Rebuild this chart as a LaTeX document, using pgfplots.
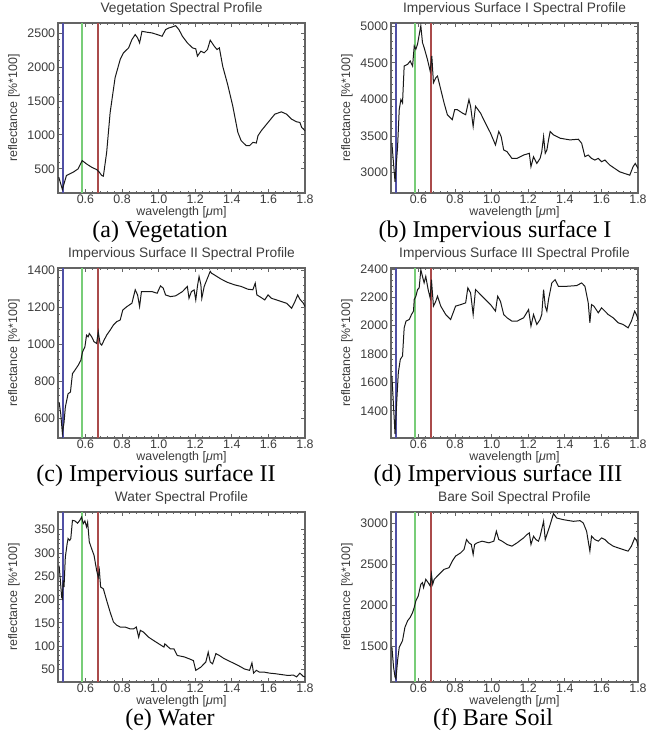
\documentclass[border=0pt]{standalone}
\usepackage{fontspec}
\setmainfont{Liberation Sans}
\newfontfamily\capfont{Liberation Serif}
\usepackage{pgfplots}
\pgfplotsset{compat=1.18}

\definecolor{bandblue}{RGB}{80,80,165}
\definecolor{bandgreen}{RGB}{120,205,120}
\definecolor{bandred}{RGB}{170,75,75}
\definecolor{frame}{RGB}{100,100,100}
\definecolor{txt}{RGB}{60,60,60}

\newcommand{\plotfont}{\fontsize{9.3}{11}\selectfont}
\newcommand{\titlefont}{\fontsize{10.3}{12}\selectfont}
\newcommand{\capsize}{\capfont\fontsize{18}{20}\selectfont}

% ENVI-like spectral profile box
\pgfplotsset{
  envi/.style={
    scale only axis, width=185.25pt, height=127.5pt,
    anchor=north west,
    xmin=0.45, xmax=1.8,
    xtick={0.6,0.8,1.0,1.2,1.4,1.6,1.8},
    minor x tick num=4, minor y tick num=4,
    tick pos=both, xticklabel pos=bottom, yticklabel pos=left,
    tick align=inside, major tick length=3pt, minor tick length=1.5pt,
    axis line style={draw=frame, line width=1.1pt},
    every tick/.style={frame, line width=0.6pt},
    /pgf/number format/assume math mode=true,
    tick label style={font=\plotfont, text=txt},
    xticklabel style={inner sep=1.5pt, /pgf/number format/.cd, fixed, fixed zerofill, precision=1},
    yticklabel style={inner sep=2pt, /pgf/number format/.cd, fixed, 1000 sep={}},
    xlabel={wavelength [\textit{μ}m]},
    ylabel={reflectance [\%*100]},
    label style={font=\plotfont, text=txt, inner sep=0.5pt},
    xlabel style={at={(axis description cs:0.5,-0.112)}, anchor=center},
    ylabel style={at={(axis description cs:-0.178,0.5)}, anchor=center},
    title style={font=\titlefont, text=txt, at={(axis description cs:0.5,1)}, anchor=base, yshift=1.7pt},
  },
  spec/.style={black!90, line width=0.75pt},
}

\newcommand{\bands}[2]{%
  \addplot[bandblue, line width=1.4pt] coordinates {(0.478,#1) (0.478,#2)};
  \addplot[bandgreen, line width=1.4pt] coordinates {(0.581,#1) (0.581,#2)};
  \addplot[bandred, line width=1.4pt] coordinates {(0.670,#1) (0.670,#2)};
}

\begin{document}
\begin{tikzpicture}
\useasboundingbox (0,0) rectangle (486pt,-549.75pt);

% (a) Vegetation
\begin{axis}[envi, at={(43.5pt,-17.25pt)}, ymin=145, ymax=2646,
  ytick={500,1000,...,2500}, title={Vegetation Spectral Profile}]
\bands{145}{2646}
\addplot[spec] coordinates {(0.454,378)(0.474,198)(0.496,402)(0.514,427)(0.533,451)(0.560,500)(0.582,622)(0.606,573)(0.634,524)(0.661,490)(0.676,451)(0.689,402)(0.698,393)(0.716,744)(0.735,1329)(0.762,1841)(0.790,2110)(0.808,2207)(0.836,2280)(0.854,2402)(0.872,2476)(0.885,2427)(0.896,2354)(0.909,2524)(0.937,2510)(0.964,2500)(0.992,2476)(1.019,2451)(1.038,2549)(1.056,2573)(1.074,2588)(1.093,2607)(1.111,2549)(1.130,2451)(1.157,2354)(1.185,2280)(1.203,2266)(1.212,2159)(1.231,2232)(1.249,2207)(1.267,2256)(1.282,2393)(1.304,2305)(1.319,2256)(1.332,2280)(1.350,2012)(1.377,1744)(1.405,1427)(1.433,1037)(1.451,915)(1.479,841)(1.497,841)(1.515,890)(1.534,880)(1.543,988)(1.561,1061)(1.598,1183)(1.635,1305)(1.671,1339)(1.699,1305)(1.726,1232)(1.754,1193)(1.772,1183)(1.782,1110)(1.800,1061)};
\end{axis}

% (b) Impervious surface I
\begin{axis}[envi, at={(293.25pt,-17.25pt)}, ymin=2719, ymax=5046,
  ytick={3000,3500,...,5000}, title={Impervious Surface I Spectral Profile}]
\bands{2719}{5046}
\addplot[spec] coordinates {(0.455,3400)(0.472,2871)(0.486,3354)(0.495,3860)(0.504,3998)(0.513,3952)(0.522,4457)(0.541,4480)(0.555,4526)(0.568,4457)(0.577,4733)(0.586,4687)(0.595,4756)(0.613,5009)(0.622,4779)(0.631,4710)(0.649,4549)(0.664,4388)(0.673,4595)(0.682,4228)(0.695,4297)(0.704,4320)(0.722,4136)(0.740,3952)(0.758,3791)(0.785,3722)(0.798,3860)(0.812,3860)(0.840,3814)(0.858,3791)(0.876,3998)(0.885,3906)(0.899,3630)(0.912,3906)(0.939,3814)(0.966,3676)(0.994,3538)(1.021,3377)(1.039,3561)(1.052,3492)(1.066,3308)(1.084,3285)(1.111,3193)(1.139,3193)(1.175,3239)(1.206,3262)(1.215,3078)(1.229,3216)(1.247,3124)(1.265,3193)(1.274,3285)(1.284,3492)(1.293,3262)(1.302,3308)(1.311,3446)(1.320,3561)(1.338,3515)(1.374,3469)(1.428,3446)(1.474,3455)(1.492,3400)(1.510,3216)(1.528,3239)(1.546,3193)(1.564,3170)(1.583,3193)(1.601,3147)(1.619,3170)(1.646,3101)(1.673,3055)(1.700,3009)(1.727,2986)(1.755,2963)(1.773,3078)(1.785,3124)(1.800,3055)};
\end{axis}

% (c) Impervious surface II
\begin{axis}[envi, at={(43.5pt,-201pt)}, ymin=491, ymax=1413,
  ytick={600,800,...,1400}, title={Impervious Surface II Spectral Profile}]
\bands{491}{1413}
\addplot[spec] coordinates {(0.456,686)(0.465,622)(0.474,516)(0.483,576)(0.490,658)(0.505,731)(0.518,740)(0.529,840)(0.542,858)(0.560,885)(0.575,913)(0.584,958)(0.597,985)(0.606,1049)(0.615,1040)(0.621,1058)(0.634,1040)(0.647,1013)(0.661,1004)(0.670,1067)(0.680,1004)(0.689,995)(0.702,1022)(0.716,1049)(0.735,1076)(0.753,1104)(0.771,1122)(0.790,1131)(0.804,1185)(0.827,1204)(0.854,1222)(0.872,1295)(0.885,1267)(0.896,1204)(0.906,1285)(0.928,1285)(0.964,1285)(0.992,1276)(1.010,1316)(1.025,1304)(1.038,1267)(1.065,1258)(1.093,1262)(1.130,1285)(1.157,1313)(1.166,1249)(1.179,1285)(1.194,1294)(1.203,1240)(1.212,1313)(1.221,1367)(1.231,1322)(1.236,1249)(1.249,1313)(1.267,1358)(1.282,1395)(1.289,1385)(1.304,1376)(1.341,1353)(1.377,1335)(1.414,1322)(1.451,1313)(1.488,1298)(1.515,1295)(1.528,1331)(1.537,1267)(1.552,1258)(1.580,1240)(1.598,1267)(1.616,1249)(1.644,1240)(1.671,1231)(1.699,1222)(1.727,1195)(1.745,1231)(1.760,1267)(1.772,1244)(1.791,1222)(1.800,1204)};
\end{axis}

% (d) Impervious surface III
\begin{axis}[envi, at={(293.25pt,-201pt)}, ymin=1208, ymax=2407,
  ytick={1400,1600,...,2400}, title={Impervious Surface III Spectral Profile}]
\bands{1208}{2407}
\addplot[spec] coordinates {(0.455,1646)(0.472,1236)(0.483,1505)(0.490,1669)(0.501,1763)(0.513,1786)(0.522,1985)(0.532,2032)(0.550,2044)(0.562,2079)(0.573,2103)(0.577,2185)(0.586,2208)(0.595,2255)(0.604,2267)(0.613,2395)(0.622,2348)(0.631,2302)(0.640,2348)(0.653,2255)(0.664,2196)(0.671,2325)(0.682,2138)(0.695,2173)(0.704,2208)(0.722,2138)(0.749,2079)(0.776,2044)(0.803,2138)(0.831,2149)(0.858,2161)(0.870,2267)(0.885,2231)(0.899,2079)(0.912,2255)(0.939,2220)(0.966,2185)(0.994,2149)(1.021,2103)(1.033,2208)(1.048,2173)(1.066,2079)(1.084,2056)(1.111,2032)(1.139,2032)(1.175,2056)(1.202,2114)(1.215,1997)(1.229,2079)(1.247,2009)(1.265,2044)(1.274,2079)(1.284,2255)(1.293,2138)(1.302,2103)(1.311,2185)(1.329,2302)(1.347,2325)(1.365,2278)(1.410,2278)(1.465,2283)(1.492,2302)(1.510,2278)(1.528,2161)(1.537,2021)(1.546,2149)(1.559,2138)(1.583,2091)(1.601,2126)(1.619,2103)(1.637,2079)(1.664,2056)(1.691,2021)(1.718,2009)(1.746,1985)(1.764,2032)(1.782,2103)(1.795,2068)(1.800,2040)};
\end{axis}

% (e) Water
\begin{axis}[envi, at={(43.5pt,-384pt)}, ymin=23, ymax=388,
  ytick={50,100,...,350}, title={Water Spectral Profile}]
\bands{23}{388}
\addplot[spec] coordinates {(0.456,273)(0.463,241)(0.470,205)(0.474,202)(0.478,241)(0.483,227)(0.490,291)(0.500,320)(0.505,331)(0.514,327)(0.520,331)(0.529,370)(0.542,369)(0.557,364)(0.569,370)(0.579,377)(0.588,363)(0.597,369)(0.606,356)(0.612,366)(0.621,324)(0.634,309)(0.647,295)(0.661,263)(0.670,248)(0.676,263)(0.683,227)(0.698,223)(0.716,198)(0.735,173)(0.753,152)(0.771,145)(0.790,141)(0.817,141)(0.845,137)(0.863,137)(0.878,141)(0.891,119)(0.900,134)(0.918,130)(0.946,119)(0.973,112)(1.001,105)(1.029,98)(1.034,105)(1.047,100)(1.065,94)(1.084,94)(1.102,80)(1.139,77)(1.166,73)(1.190,69)(1.203,48)(1.231,55)(1.258,66)(1.271,87)(1.282,66)(1.295,62)(1.313,84)(1.332,80)(1.359,73)(1.396,66)(1.433,59)(1.469,51)(1.497,48)(1.510,64)(1.519,42)(1.534,48)(1.552,44)(1.580,44)(1.607,42)(1.635,41)(1.671,39)(1.708,37)(1.736,38)(1.754,34)(1.772,42)(1.791,35)(1.800,34)};
\end{axis}

% (f) Bare Soil
\begin{axis}[envi, at={(293.25pt,-384pt)}, ymin=1070, ymax=3133,
  ytick={1500,2000,...,3000}, title={Bare Soil Spectral Profile}]
\bands{1070}{3133}
\addplot[spec] coordinates {(0.455,1492)(0.464,1251)(0.472,1130)(0.477,1110)(0.486,1331)(0.495,1492)(0.504,1532)(0.513,1573)(0.526,1733)(0.541,1814)(0.555,1854)(0.568,1914)(0.577,1975)(0.586,2055)(0.599,2115)(0.613,2256)(0.622,2276)(0.628,2216)(0.640,2316)(0.653,2276)(0.664,2236)(0.671,2377)(0.678,2256)(0.686,2316)(0.704,2357)(0.722,2397)(0.740,2437)(0.767,2457)(0.785,2538)(0.803,2598)(0.831,2638)(0.849,2678)(0.863,2799)(0.876,2759)(0.889,2739)(0.899,2618)(0.907,2739)(0.921,2759)(0.948,2779)(0.985,2759)(1.012,2779)(1.026,2900)(1.039,2799)(1.057,2779)(1.084,2739)(1.111,2719)(1.139,2759)(1.175,2819)(1.193,2859)(1.206,2879)(1.215,2739)(1.229,2839)(1.242,2799)(1.256,2779)(1.265,2839)(1.284,3020)(1.293,2799)(1.302,2859)(1.320,2980)(1.338,3113)(1.356,3060)(1.392,3040)(1.447,3020)(1.483,3028)(1.501,3000)(1.519,2900)(1.537,2658)(1.546,2839)(1.564,2799)(1.583,2779)(1.601,2819)(1.619,2799)(1.637,2759)(1.664,2719)(1.691,2698)(1.718,2678)(1.746,2658)(1.764,2719)(1.782,2819)(1.794,2779)(1.800,2719)};
\end{axis}

\node[font=\capsize] at (120pt,-173.5pt) {(a) Vegetation};
\node[font=\capsize] at (371.25pt,-173.5pt) {(b) Impervious surface I};
\node[font=\capsize] at (117pt,-356.5pt) {(c) Impervious surface II};
\node[font=\capsize] at (373.5pt,-356.5pt) {(d) Impervious surface III};
\node[font=\capsize] at (127.5pt,-539.5pt) {(e) Water};
\node[font=\capsize] at (369.75pt,-539.5pt) {(f) Bare Soil};
\end{tikzpicture}
\end{document}
